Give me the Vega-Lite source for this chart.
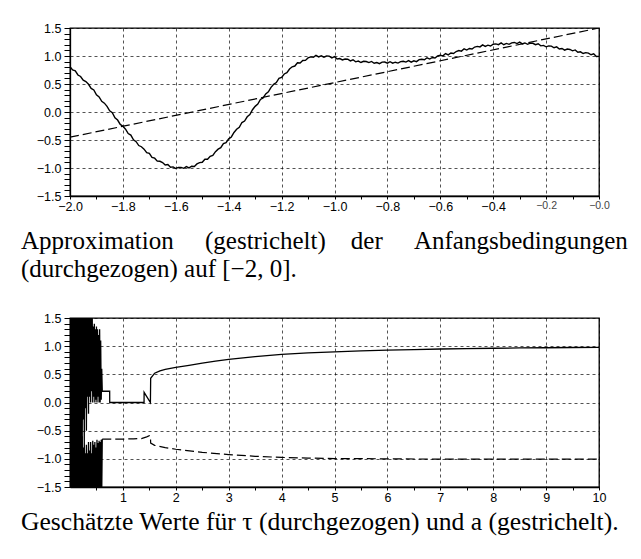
{
  "$schema": "https://vega.github.io/schema/vega-lite/v6.json",
  "padding": {"left": 20, "top": 21, "right": 5, "bottom": 5},
  "background": "white",
  "config": {
    "view": {"stroke": "black", "strokeWidth": 1.3},
    "axis": {
      "labelFont": "Liberation Sans",
      "labelFontSize": 12.5,
      "labelColor": "black",
      "domainColor": "black",
      "domainWidth": 1.3,
      "tickColor": "black",
      "tickWidth": 1,
      "tickCount": 1000,
      "gridColor": "black",
      "gridDash": [3, 3],
      "gridWidth": 0.8,
      "title": null,
      "labelFlush": false,
      "labelOverlap": false,
      "labelBound": false
    },
    "title": {"font": "Liberation Serif", "fontSize": 25, "fontWeight": "normal", "color": "black"}
  },
  "datasets": {
    "top_u": [
      {"x":-2.00,"y":0.807},{"x":-1.99,"y":0.750},{"x":-1.98,"y":0.736},{"x":-1.97,"y":0.661},{"x":-1.96,"y":0.634},{"x":-1.95,"y":0.567},{"x":-1.94,"y":0.544},{"x":-1.93,"y":0.495},{"x":-1.92,"y":0.422},{"x":-1.91,"y":0.394},
      {"x":-1.90,"y":0.306},{"x":-1.89,"y":0.268},{"x":-1.88,"y":0.190},{"x":-1.87,"y":0.158},{"x":-1.86,"y":0.101},{"x":-1.85,"y":0.022},{"x":-1.84,"y":-0.012},{"x":-1.83,"y":-0.103},{"x":-1.82,"y":-0.144},{"x":-1.81,"y":-0.222},
      {"x":-1.80,"y":-0.254},{"x":-1.79,"y":-0.308},{"x":-1.78,"y":-0.384},{"x":-1.77,"y":-0.412},{"x":-1.76,"y":-0.497},{"x":-1.75,"y":-0.530},{"x":-1.74,"y":-0.599},{"x":-1.73,"y":-0.620},{"x":-1.72,"y":-0.663},{"x":-1.71,"y":-0.726},
      {"x":-1.70,"y":-0.740},{"x":-1.69,"y":-0.809},{"x":-1.68,"y":-0.825},{"x":-1.67,"y":-0.877},{"x":-1.66,"y":-0.880},{"x":-1.65,"y":-0.903},{"x":-1.64,"y":-0.945},{"x":-1.63,"y":-0.938},{"x":-1.62,"y":-0.986},{"x":-1.61,"y":-0.980},
      {"x":-1.60,"y":-1.009},{"x":-1.59,"y":-0.988},{"x":-1.58,"y":-0.988},{"x":-1.57,"y":-1.006},{"x":-1.56,"y":-0.975},{"x":-1.55,"y":-0.998},{"x":-1.54,"y":-0.968},{"x":-1.53,"y":-0.972},{"x":-1.52,"y":-0.927},{"x":-1.51,"y":-0.903},
      {"x":-1.50,"y":-0.898},{"x":-1.49,"y":-0.843},{"x":-1.48,"y":-0.843},{"x":-1.47,"y":-0.791},{"x":-1.46,"y":-0.774},{"x":-1.45,"y":-0.708},{"x":-1.44,"y":-0.663},{"x":-1.43,"y":-0.638},{"x":-1.42,"y":-0.565},{"x":-1.41,"y":-0.548},
      {"x":-1.40,"y":-0.479},{"x":-1.39,"y":-0.446},{"x":-1.38,"y":-0.366},{"x":-1.37,"y":-0.308},{"x":-1.36,"y":-0.272},{"x":-1.35,"y":-0.188},{"x":-1.34,"y":-0.162},{"x":-1.33,"y":-0.085},{"x":-1.32,"y":-0.046},{"x":-1.31,"y":0.040},
      {"x":-1.30,"y":0.101},{"x":-1.29,"y":0.140},{"x":-1.28,"y":0.224},{"x":-1.27,"y":0.250},{"x":-1.26,"y":0.323},{"x":-1.25,"y":0.359},{"x":-1.24,"y":0.440},{"x":-1.23,"y":0.494},{"x":-1.22,"y":0.526},{"x":-1.21,"y":0.601},
      {"x":-1.20,"y":0.616},{"x":-1.19,"y":0.679},{"x":-1.18,"y":0.702},{"x":-1.17,"y":0.768},{"x":-1.16,"y":0.807},{"x":-1.15,"y":0.821},{"x":-1.14,"y":0.879},{"x":-1.13,"y":0.876},{"x":-1.12,"y":0.919},{"x":-1.11,"y":0.921},
      {"x":-1.10,"y":0.966},{"x":-1.09,"y":0.984},{"x":-1.08,"y":0.976},{"x":-1.07,"y":1.011},{"x":-1.06,"y":0.984},{"x":-1.05,"y":1.004},{"x":-1.04,"y":0.979},{"x":-1.03,"y":1.000},{"x":-1.02,"y":0.997},{"x":-1.01,"y":0.967},
      {"x":-1.00,"y":0.988},{"x":-0.99,"y":0.946},{"x":-0.98,"y":0.954},{"x":-0.97,"y":0.929},{"x":-0.96,"y":0.945},{"x":-0.95,"y":0.942},{"x":-0.94,"y":0.912},{"x":-0.93,"y":0.933},{"x":-0.92,"y":0.896},{"x":-0.91,"y":0.909},
      {"x":-0.90,"y":0.884},{"x":-0.89,"y":0.905},{"x":-0.88,"y":0.902},{"x":-0.87,"y":0.882},{"x":-0.86,"y":0.903},{"x":-0.85,"y":0.871},{"x":-0.84,"y":0.884},{"x":-0.83,"y":0.864},{"x":-0.82,"y":0.890},{"x":-0.81,"y":0.892},
      {"x":-0.80,"y":0.872},{"x":-0.79,"y":0.898},{"x":-0.78,"y":0.871},{"x":-0.77,"y":0.889},{"x":-0.76,"y":0.874},{"x":-0.75,"y":0.900},{"x":-0.74,"y":0.907},{"x":-0.73,"y":0.892},{"x":-0.72,"y":0.918},{"x":-0.71,"y":0.891},
      {"x":-0.70,"y":0.914},{"x":-0.69,"y":0.899},{"x":-0.68,"y":0.935},{"x":-0.67,"y":0.942},{"x":-0.66,"y":0.932},{"x":-0.65,"y":0.968},{"x":-0.64,"y":0.946},{"x":-0.63,"y":0.974},{"x":-0.62,"y":0.964},{"x":-0.61,"y":1.000},
      {"x":-0.60,"y":1.012},{"x":-0.59,"y":1.002},{"x":-0.58,"y":1.043},{"x":-0.57,"y":1.021},{"x":-0.56,"y":1.054},{"x":-0.55,"y":1.044},{"x":-0.54,"y":1.080},{"x":-0.53,"y":1.097},{"x":-0.52,"y":1.087},{"x":-0.51,"y":1.128},
      {"x":-0.50,"y":1.106},{"x":-0.49,"y":1.134},{"x":-0.48,"y":1.124},{"x":-0.47,"y":1.160},{"x":-0.46,"y":1.172},{"x":-0.45,"y":1.162},{"x":-0.44,"y":1.198},{"x":-0.43,"y":1.171},{"x":-0.42,"y":1.194},{"x":-0.41,"y":1.179},
      {"x":-0.40,"y":1.210},{"x":-0.39,"y":1.217},{"x":-0.38,"y":1.202},{"x":-0.37,"y":1.233},{"x":-0.36,"y":1.201},{"x":-0.35,"y":1.224},{"x":-0.34,"y":1.209},{"x":-0.33,"y":1.235},{"x":-0.32,"y":1.242},{"x":-0.31,"y":1.222},
      {"x":-0.30,"y":1.248},{"x":-0.29,"y":1.216},{"x":-0.28,"y":1.234},{"x":-0.27,"y":1.209},{"x":-0.26,"y":1.230},{"x":-0.25,"y":1.227},{"x":-0.24,"y":1.202},{"x":-0.23,"y":1.218},{"x":-0.22,"y":1.181},{"x":-0.21,"y":1.189},
      {"x":-0.20,"y":1.164},{"x":-0.19,"y":1.180},{"x":-0.18,"y":1.177},{"x":-0.17,"y":1.147},{"x":-0.16,"y":1.163},{"x":-0.15,"y":1.126},{"x":-0.14,"y":1.134},{"x":-0.13,"y":1.104},{"x":-0.12,"y":1.125},{"x":-0.11,"y":1.117},
      {"x":-0.10,"y":1.092},{"x":-0.09,"y":1.108},{"x":-0.08,"y":1.066},{"x":-0.07,"y":1.074},{"x":-0.06,"y":1.044},{"x":-0.05,"y":1.060},{"x":-0.04,"y":1.052},{"x":-0.03,"y":1.022},{"x":-0.02,"y":1.038},{"x":-0.01,"y":0.991},
      {"x":0.00,"y":0.994}
    ],
    "top_phi": [{"x": -2, "y": -0.45}, {"x": 0, "y": 1.5}],
    "tau": [
      {"x":0.00,"y":1.8},{"x":0.01,"y":-1.8},{"x":0.02,"y":1.7},{"x":0.03,"y":-1.9},{"x":0.04,"y":1.9},{"x":0.05,"y":-1.7},{"x":0.06,"y":1.6},{"x":0.07,"y":-1.8},{"x":0.08,"y":2.0},{"x":0.09,"y":-1.6},
      {"x":0.10,"y":1.8},{"x":0.11,"y":-1.9},{"x":0.12,"y":1.7},{"x":0.13,"y":-1.5},{"x":0.14,"y":1.9},{"x":0.15,"y":-1.7},{"x":0.16,"y":1.6},{"x":0.17,"y":-1.2},{"x":0.18,"y":1.8},{"x":0.19,"y":-0.9},
      {"x":0.20,"y":1.7},{"x":0.21,"y":-0.6},{"x":0.22,"y":1.5},{"x":0.23,"y":-0.95},{"x":0.24,"y":1.6},{"x":0.25,"y":-0.3},{"x":0.26,"y":1.7},{"x":0.27,"y":-0.7},{"x":0.28,"y":1.6},{"x":0.29,"y":-0.1},
      {"x":0.30,"y":1.8},{"x":0.31,"y":-0.5},{"x":0.32,"y":1.6},{"x":0.33,"y":0.1},{"x":0.34,"y":1.7},{"x":0.35,"y":-0.2},{"x":0.36,"y":1.8},{"x":0.37,"y":0.1},{"x":0.38,"y":1.6},{"x":0.39,"y":0.0},
      {"x":0.40,"y":1.7},{"x":0.41,"y":0.2},{"x":0.42,"y":1.6},{"x":0.43,"y":0.0},{"x":0.44,"y":1.35},{"x":0.45,"y":0.1},{"x":0.46,"y":1.4},{"x":0.47,"y":0.0},{"x":0.48,"y":1.3},{"x":0.49,"y":0.05},
      {"x":0.50,"y":1.35},{"x":0.51,"y":0.0},{"x":0.52,"y":1.3},{"x":0.53,"y":0.1},{"x":0.54,"y":1.2},{"x":0.55,"y":0.0},{"x":0.56,"y":1.3},{"x":0.57,"y":0.0},{"x":0.58,"y":1.1},{"x":0.59,"y":0.05},
      {"x":0.60,"y":0.6},{"x":0.61,"y":0.2},{"x":0.75,"y":0.2},{"x":0.751,"y":0.0},{"x":1.0,"y":0.0},{"x":1.4,"y":0.0},{"x":1.401,"y":0.18},{"x":1.52,"y":0.0},{"x":1.525,"y":0.43},{"x":1.6,"y":0.52},
      {"x":1.7,"y":0.56},{"x":1.8,"y":0.59},{"x":2.0,"y":0.625},{"x":2.25,"y":0.66},{"x":2.5,"y":0.70},{"x":2.75,"y":0.735},{"x":3.0,"y":0.765},{"x":3.5,"y":0.815},{"x":4.0,"y":0.855},{"x":4.5,"y":0.88},
      {"x":5.0,"y":0.90},{"x":5.5,"y":0.915},{"x":6.0,"y":0.93},{"x":6.5,"y":0.94},{"x":7.0,"y":0.95},{"x":7.5,"y":0.957},{"x":8.0,"y":0.963},{"x":8.5,"y":0.968},{"x":9.0,"y":0.972},{"x":9.5,"y":0.976},
      {"x":10.0,"y":0.98}
    ],
    "a": [
      {"x":0.00,"y":-1.8},{"x":0.01,"y":1.6},{"x":0.02,"y":-1.9},{"x":0.03,"y":1.2},{"x":0.04,"y":-1.7},{"x":0.05,"y":1.8},{"x":0.06,"y":-1.8},{"x":0.07,"y":0.9},{"x":0.08,"y":-1.9},{"x":0.09,"y":1.4},
      {"x":0.10,"y":-1.6},{"x":0.11,"y":0.6},{"x":0.12,"y":-1.8},{"x":0.13,"y":1.0},{"x":0.14,"y":-1.7},{"x":0.15,"y":-0.2},{"x":0.16,"y":-1.9},{"x":0.17,"y":0.4},{"x":0.18,"y":-1.6},{"x":0.19,"y":-0.5},
      {"x":0.20,"y":-1.8},{"x":0.21,"y":-0.3},{"x":0.22,"y":-1.7},{"x":0.23,"y":-0.6},{"x":0.24,"y":-1.6},{"x":0.25,"y":-0.8},{"x":0.26,"y":-1.8},{"x":0.27,"y":-0.7},{"x":0.28,"y":-1.5},{"x":0.29,"y":-0.9},
      {"x":0.30,"y":-1.7},{"x":0.31,"y":-0.75},{"x":0.32,"y":-1.6},{"x":0.33,"y":-0.9},{"x":0.34,"y":-1.8},{"x":0.35,"y":-0.7},{"x":0.36,"y":-1.6},{"x":0.37,"y":-0.85},{"x":0.38,"y":-1.7},{"x":0.39,"y":-0.7},
      {"x":0.40,"y":-1.55},{"x":0.41,"y":-0.9},{"x":0.42,"y":-1.8},{"x":0.43,"y":-0.68},{"x":0.44,"y":-1.6},{"x":0.45,"y":-0.75},{"x":0.46,"y":-1.7},{"x":0.47,"y":-0.7},{"x":0.48,"y":-1.65},{"x":0.49,"y":-0.8},
      {"x":0.50,"y":-1.8},{"x":0.51,"y":-0.66},{"x":0.52,"y":-1.6},{"x":0.53,"y":-0.72},{"x":0.54,"y":-1.7},{"x":0.55,"y":-0.68},{"x":0.56,"y":-1.6},{"x":0.57,"y":-0.7},{"x":0.58,"y":-1.75},{"x":0.59,"y":-0.66},
      {"x":0.60,"y":-1.6},{"x":0.61,"y":-0.65},{"x":0.8,"y":-0.65},{"x":1.0,"y":-0.65},{"x":1.2,"y":-0.645},{"x":1.35,"y":-0.64},{"x":1.45,"y":-0.61},{"x":1.5,"y":-0.59},{"x":1.52,"y":-0.6},{"x":1.525,"y":-0.72},
      {"x":1.6,"y":-0.76},{"x":1.8,"y":-0.80},{"x":2.0,"y":-0.83},{"x":2.5,"y":-0.885},{"x":3.0,"y":-0.925},{"x":3.5,"y":-0.955},{"x":4.0,"y":-0.975},{"x":4.5,"y":-0.987},{"x":5.0,"y":-0.995},{"x":6.0,"y":-1.0},
      {"x":7.0,"y":-1.005},{"x":8.0,"y":-1.005},{"x":9.0,"y":-1.005},{"x":10.0,"y":-1.005}
    ]
  },
  "spacing": 28,
  "vconcat": [
    {
      "width": 529,
      "height": 168,
      "title": {
        "text": ["Approximation\u00a0\u00a0\u00a0\u00a0\u00a0(gestrichelt)\u00a0\u00a0\u00a0\u00a0der\u00a0\u00a0\u00a0\u00a0\u00a0Anfangsbedingungen", "(durchgezogen) auf [−2, 0]."],
        "orient": "bottom",
        "anchor": "start",
        "frame": "group",
        "dx": -49,
        "offset": 16,
        "baseline": "top",
        "lineHeight": 28
      },
      "layer": [
        {
          "data": {"name": "top_u"},
          "mark": {"type": "line", "color": "black", "strokeWidth": 1.4, "clip": true},
          "encoding": {
            "x": {"field": "x", "type": "quantitative", "scale": {"domain": [-2, 0], "nice": false, "zero": false},
              "axis": {"orient": "bottom",
                "values": [-2, -1.9, -1.8, -1.7, -1.6, -1.5, -1.4, -1.3, -1.2, -1.1, -1, -0.9, -0.8, -0.7, -0.6, -0.5, -0.4, -0.3, -0.2, -0.1, 0],
                "labelExpr": "abs(datum.value*5 - round(datum.value*5)) > 0.001 ? '' : (datum.value > -0.01 ? '−0.0' : format(datum.value, '.1f'))",
                "grid": true, "labelPadding": 1, "tickSize": 3,
                "gridOpacity": {"condition": {"test": "abs(datum.value*5 - round(datum.value*5)) > 0.001", "value": 0}, "value": 0.85},
                "labelFontSize": {"condition": {"test": "datum.value > -0.3", "value": 10.5}, "value": 12.5},
                "labelColor": {"condition": {"test": "datum.value > -0.3", "value": "#444444"}, "value": "black"}}},
            "y": {"field": "y", "type": "quantitative", "scale": {"domain": [-1.5, 1.5], "nice": false, "zero": false},
              "axis": {"orient": "left",
                "values": [-1.5, -1.4, -1.3, -1.2, -1.1, -1, -0.9, -0.8, -0.7, -0.6, -0.5, -0.4, -0.3, -0.2, -0.1, 0, 0.1, 0.2, 0.3, 0.4, 0.5, 0.6, 0.7, 0.8, 0.9, 1, 1.1, 1.2, 1.3, 1.4, 1.5],
                "labelExpr": "abs(datum.value*2 - round(datum.value*2)) > 0.001 ? '' : format(datum.value, '.1f')",
                "grid": true, "labelPadding": 3, "tickSize": 6,
                "gridOpacity": {"condition": {"test": "abs(datum.value*2 - round(datum.value*2)) > 0.001", "value": 0}, "value": 0.85}}}
          }
        },
        {
          "data": {"name": "top_phi"},
          "mark": {"type": "line", "color": "black", "strokeWidth": 1.2, "strokeDash": [9, 4], "clip": true},
          "encoding": {
            "x": {"field": "x", "type": "quantitative"},
            "y": {"field": "y", "type": "quantitative"}
          }
        }
      ]
    },
    {
      "width": 529,
      "height": 169,
      "title": {
        "text": "Geschätzte Werte für τ (durchgezogen) und a (gestrichelt).",
        "orient": "bottom",
        "anchor": "start",
        "frame": "group",
        "dx": -49,
        "offset": 6,
        "baseline": "top",
        "fontSize": 25.6
      },
      "layer": [
        {
          "data": {"name": "tau"},
          "mark": {"type": "line", "color": "black", "strokeWidth": 1.3, "clip": true},
          "encoding": {
            "x": {"field": "x", "type": "quantitative", "scale": {"domain": [0, 10], "nice": false, "zero": false},
              "axis": {"orient": "bottom",
                "values": [0.5, 1, 1.5, 2, 2.5, 3, 3.5, 4, 4.5, 5, 5.5, 6, 6.5, 7, 7.5, 8, 8.5, 9, 9.5, 10],
                "labelExpr": "abs(datum.value - round(datum.value)) > 0.001 ? '' : format(datum.value, 'd')",
                "grid": true, "labelPadding": 1, "tickSize": 3,
                "gridOpacity": {"condition": {"test": "abs(datum.value - round(datum.value)) > 0.001", "value": 0}, "value": 0.85}}},
            "y": {"field": "y", "type": "quantitative", "scale": {"domain": [-1.5, 1.5], "nice": false, "zero": false},
              "axis": {"orient": "left",
                "values": [-1.5, -1.4, -1.3, -1.2, -1.1, -1, -0.9, -0.8, -0.7, -0.6, -0.5, -0.4, -0.3, -0.2, -0.1, 0, 0.1, 0.2, 0.3, 0.4, 0.5, 0.6, 0.7, 0.8, 0.9, 1, 1.1, 1.2, 1.3, 1.4, 1.5],
                "labelExpr": "abs(datum.value*2 - round(datum.value*2)) > 0.001 ? '' : format(datum.value, '.1f')",
                "grid": true, "labelPadding": 3, "tickSize": 6,
                "gridOpacity": {"condition": {"test": "abs(datum.value*2 - round(datum.value*2)) > 0.001", "value": 0}, "value": 0.85}}}
          }
        },
        {
          "data": {"name": "a"},
          "transform": [{"filter": "datum.x <= 0.61"}],
          "mark": {"type": "line", "color": "black", "strokeWidth": 1.3, "clip": true},
          "encoding": {
            "x": {"field": "x", "type": "quantitative"},
            "y": {"field": "y", "type": "quantitative"}
          }
        },
        {
          "data": {"name": "a"},
          "transform": [{"filter": "datum.x >= 0.61"}],
          "mark": {"type": "line", "color": "black", "strokeWidth": 1.2, "strokeDash": [9, 4], "clip": true},
          "encoding": {
            "x": {"field": "x", "type": "quantitative"},
            "y": {"field": "y", "type": "quantitative"}
          }
        }
      ]
    }
  ]
}
